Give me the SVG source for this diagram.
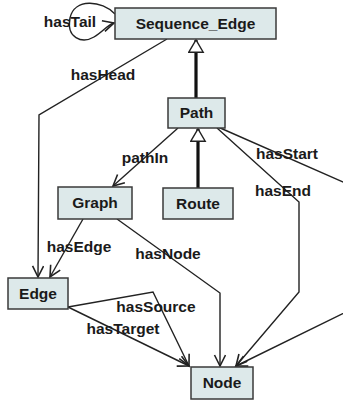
<svg xmlns="http://www.w3.org/2000/svg" width="343" height="401" viewBox="0 0 343 401">
<defs>
<style>
.box{fill:#dde9ea;stroke:#3a3a3a;stroke-width:1.5}
.t{font-family:"Liberation Sans",Arial,sans-serif;font-weight:bold;font-size:15.5px;fill:#1a1a1a;text-anchor:middle}
.c{fill:none;stroke:#222;stroke-width:1.4;marker-end:url(#arr)}
.inh{fill:none;stroke:#111;stroke-width:3.2;marker-end:url(#tri)}
</style>
<marker id="arr" markerUnits="userSpaceOnUse" markerWidth="14" markerHeight="14" refX="12" refY="6" orient="auto">
<path d="M1,0.5 L12,6 L1,11.5" fill="none" stroke="#222" stroke-width="1.6"/>
</marker>
<marker id="tri" markerUnits="userSpaceOnUse" markerWidth="16" markerHeight="18" refX="13" refY="8" orient="auto">
<path d="M0.8,0.8 L13,8 L0.8,15.2 Z" fill="#fff" stroke="#222" stroke-width="1.4"/>
</marker>
</defs>
<g id="connectors">
<path class="c" d="M115,14 C102,0 74,-2 70,18 C66,38 82,44 94,37 C103,32 107,25 114,23"/>
<polyline class="c" points="167,39 39,115 38,277"/>
<line class="inh" x1="196" y1="98" x2="196" y2="40"/>
<line class="inh" x1="198" y1="188" x2="198" y2="129"/>
<line class="c" x1="178" y1="128" x2="113" y2="186"/>
<line class="c" x1="83" y1="219" x2="50" y2="277"/>
<polyline class="c" points="117,219 220,293 220,366"/>
<polyline class="c" points="68,307 153,292 189,366"/>
<line class="c" x1="68" y1="307" x2="189" y2="366"/>
<polyline class="c" points="217,128 299,202 299,292 236,366"/>
<polyline class="c" points="218,127 350,185 350,310 236,366"/>
</g>
<g id="labels">
<text class="t" x="70" y="27">hasTail</text>
<text class="t" x="103" y="80">hasHead</text>
<text class="t" x="145" y="163">pathIn</text>
<text class="t" x="79" y="252">hasEdge</text>
<text class="t" x="168" y="259">hasNode</text>
<text class="t" x="156" y="312">hasSource</text>
<text class="t" x="123" y="334">hasTarget</text>
<text class="t" x="287" y="159">hasStart</text>
<text class="t" x="283" y="196">hasEnd</text>
</g>
<g id="Sequence_Edge"><rect class="box" x="115" y="8" width="161" height="31"/><text class="t" x="195.5" y="28.5">Sequence_Edge</text></g>
<g id="Path"><rect class="box" x="168" y="98" width="57" height="30"/><text class="t" x="196.5" y="118">Path</text></g>
<g id="Route"><rect class="box" x="163" y="188" width="70" height="31"/><text class="t" x="198" y="208.5">Route</text></g>
<g id="Graph"><rect class="box" x="58" y="187" width="74" height="32"/><text class="t" x="95" y="208">Graph</text></g>
<g id="Edge"><rect class="box" x="8" y="278" width="60" height="31"/><text class="t" x="38" y="298.5">Edge</text></g>
<g id="Node"><rect class="box" x="191" y="367" width="62" height="32"/><text class="t" x="222" y="388">Node</text></g>
</svg>
